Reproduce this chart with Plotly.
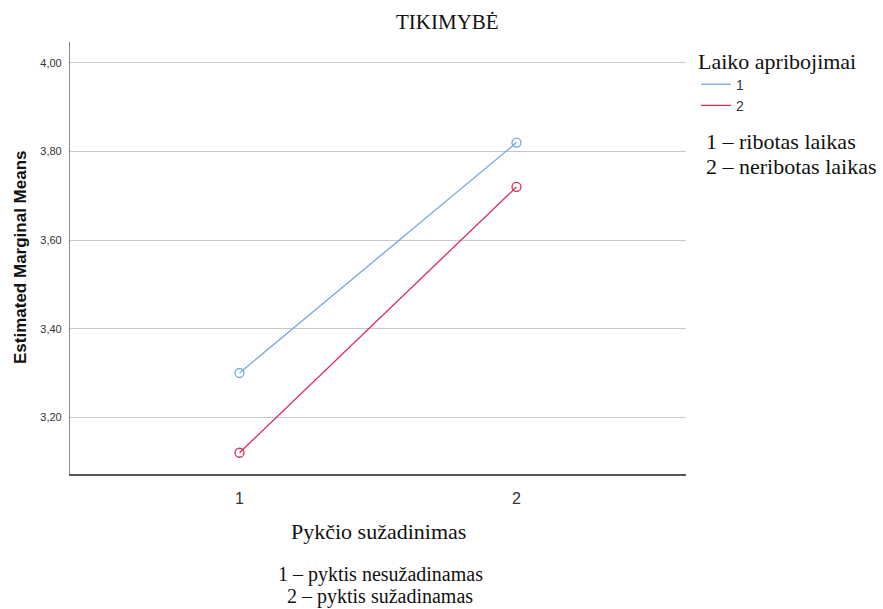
import plotly.graph_objects as go

# Estimated marginal means of TIKIMYBĖ by anger induction and time limit
x_levels = [1, 2]
group_names = ["1", "2"]
means_limited = [3.30, 3.82]
means_unlimited = [3.12, 3.72]
colors = ["#72a5e8", "#db2b55"]
y_ticks = [3.20, 3.40, 3.60, 3.80, 4.00]

series = [means_limited, means_unlimited]

fig = go.Figure()
for name, vals, col in zip(group_names, series, colors):
    # line shown in legend
    fig.add_trace(go.Scatter(
        x=x_levels, y=vals, mode="lines", name=name,
        line=dict(color=col, width=1.3), showlegend=True, hoverinfo="skip"))
    # open circle markers
    fig.add_trace(go.Scatter(
        x=x_levels, y=vals, mode="markers", name=name,
        marker=dict(symbol="circle-open", size=9, color=col, line=dict(width=1.3)),
        showlegend=False))

serif = "Liberation Serif, Times New Roman, serif"
sans = "Liberation Sans, Arial, sans-serif"

L, R, T, B = 70, 197, 42, 135
W, H = 883, 609
pw, ph = W - L - R, H - T - B

def px_x(p):
    return (p - L) / pw

def px_y(p):
    return (H - B - p) / ph

def note(text, x, y, size=22, anchor="center", family=serif, angle=0):
    return dict(text=text, xref="paper", yref="paper", x=px_x(x), y=px_y(y),
                xanchor=anchor, yanchor="middle", showarrow=False, textangle=angle,
                font=dict(family=family, size=size, color="#111"))

fig.update_layout(
    width=W, height=H,
    margin=dict(l=L, r=R, t=T, b=B),
    paper_bgcolor="white", plot_bgcolor="white",
    separators=",.",
    showlegend=True,
    legend=dict(
        x=px_x(696), y=px_y(40), xanchor="left", yanchor="top",
        title=dict(text="Laiko apribojimai", font=dict(family=serif, size=22, color="#111")),
        font=dict(family=sans, size=14, color="#333"),
        tracegroupgap=0, itemwidth=30, bgcolor="rgba(0,0,0,0)"),
    xaxis=dict(
        range=[0.388, 2.612], tickvals=x_levels, ticktext=[str(v) for v in x_levels],
        showgrid=False, zeroline=False, showline=True, linecolor="#555", linewidth=1.5,
        ticks="", ticklabelstandoff=9,
        tickfont=dict(family=sans, size=16, color="#333")),
    yaxis=dict(
        range=[3.072, 4.047], tickvals=y_ticks, tickformat=".2f",
        showgrid=True, gridcolor="#c8c8c8", gridwidth=1.2, zeroline=False,
        showline=True, linecolor="#8a8a8a", linewidth=1.2,
        ticks="", ticklabelstandoff=5,
        tickfont=dict(family=sans, size=11, color="#333")),
    annotations=[
        note("TIKIMYBĖ", 447, 22, size=21),
        note("<b>Estimated Marginal Means</b>", 20, 257, size=17, family=sans, angle=-90),
        note("Pykčio sužadinimas", 378, 531),
        note("1 – pyktis nesužadinamas", 380, 574, size=20),
        note("2 – pyktis sužadinamas", 380, 596, size=20),
        note("1 – ribotas laikas", 704, 141, anchor="left"),
        note("2 – neribotas laikas", 704, 166, anchor="left"),
    ],
)

fig.write_html("out.html")
